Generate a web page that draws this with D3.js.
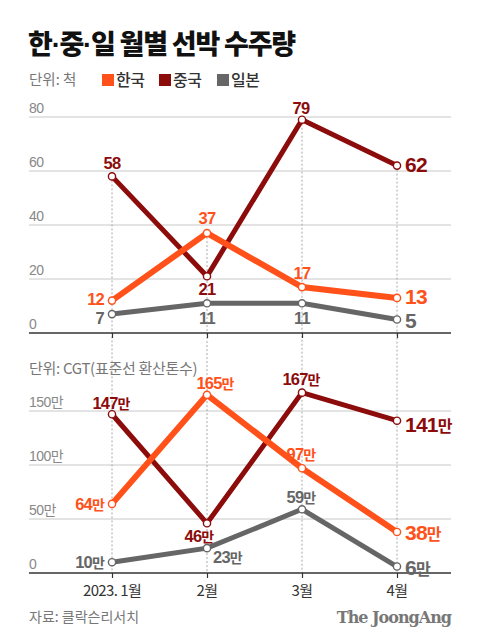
<!DOCTYPE html>
<html><head><meta charset="utf-8">
<script src="https://cdn.jsdelivr.net/npm/d3@7"></script>
<style>
html,body{margin:0;padding:0;background:#fff;}
svg{display:block;}
</style></head>
<body>
<script>
// ---- data ----
const months = ["2023. 1월", "2월", "3월", "4월"];
const seriesNames = ["한국", "중국", "일본"];
const shipsKorea = [12, 37, 17, 13];
const shipsChina = [58, 21, 79, 62];
const shipsJapan = [7, 11, 11, 5];
const cgtKorea = [64, 165, 97, 38];
const cgtChina = [147, 46, 167, 141];
const cgtJapan = [10, 23, 59, 6];
const shipTicks = [0, 20, 40, 60, 80];
const cgtTicks = [0, 50, 100, 150];
const cgtTickLabels = ["0", "50만", "100만", "150만"];
const titleParts = ["한", "·", "중", "·", "일 월별 선박 수주량"];

// ---- style ----
const W = 480, H = 644;
const colors = {"한국": "#ff5119", "중국": "#8c0b0b", "일본": "#666666"};
const widths = {"한국": 6, "중국": 5, "일본": 5};
const numFont = "'Liberation Sans', Arial, 'Noto Sans CJK KR', sans-serif";
const krFont = "'Noto Sans CJK KR', 'Liberation Sans', sans-serif";

const svg = d3.select("body").append("svg").attr("width", W).attr("height", H);

// title
const title = svg.append("text").attr("x", 28).attr("y", 54)
  .attr("font-family", krFont).attr("font-weight", 900).attr("font-size", 27)
  .attr("letter-spacing", -1.2).attr("fill", "#111");
titleParts.forEach(p => {
  const ts = title.append("tspan").text(p);
  if (p === "·") ts.attr("font-family", "'Liberation Sans', sans-serif").attr("font-weight", "bold");
});

// legend
svg.append("text").attr("x", 29).attr("y", 85).attr("font-family", krFont)
  .attr("font-size", 14.5).attr("fill", "#777").text("단위: 척");
const legX = [102, 159, 217];
seriesNames.forEach((n, i) => {
  svg.append("rect").attr("x", legX[i]).attr("y", 74).attr("width", 12).attr("height", 12).attr("fill", colors[n]);
  svg.append("text").attr("x", legX[i] + 14).attr("y", 86).attr("font-family", krFont)
    .attr("font-size", 16).attr("font-weight", 500).attr("fill", "#333").attr("letter-spacing", -0.5).text(n);
});

const x = d3.scalePoint().domain(months).range([112, 397]);
const yTop = d3.scaleLinear().domain([0, 80]).range([333, 117]);
const yBot = d3.scaleLinear().domain([0, 150]).range([573, 411]);
const gx0 = 29, gx1 = 451;

function grid(scale, ticks, labels) {
  const g = svg.append("g");
  ticks.forEach((t, i) => {
    if (t !== 0) {
      g.append("line").attr("x1", gx0).attr("x2", gx1).attr("y1", scale(t)).attr("y2", scale(t))
        .attr("stroke", "#c8c8c8").attr("stroke-width", 1);
    }
    g.append("text").attr("x", gx0).attr("y", scale(t) - 4)
      .attr("font-family", numFont).attr("font-size", 14).attr("fill", "#888")
      .attr("letter-spacing", -0.5).text(labels ? labels[i] : t);
  });
}
grid(yTop, shipTicks);
grid(yBot, cgtTicks, cgtTickLabels);

// unit label bottom
svg.append("text").attr("x", 29).attr("y", 374).attr("font-family", krFont)
  .attr("font-size", 15).attr("fill", "#777").attr("letter-spacing", -0.3)
  .text("단위: CGT(표준선 환산톤수)");

// dotted verticals
months.forEach((m, i) => {
  const top = yTop(Math.max(shipsKorea[i], shipsChina[i], shipsJapan[i]));
  svg.append("line").attr("x1", x(m)).attr("x2", x(m)).attr("y1", top).attr("y2", yBot(0))
    .attr("stroke", "#a8a8a8").attr("stroke-width", 1).attr("stroke-dasharray", "2,2");
});

// axes
function axis(scale) {
  const y0 = scale(0);
  const g = svg.append("g").attr("transform", `translate(0,${y0})`)
    .call(d3.axisBottom(x).tickSize(5).tickFormat(""));
  g.select(".domain").remove();
  g.selectAll(".tick line").attr("stroke", "#333").attr("stroke-width", 1.2);
  svg.append("line").attr("x1", gx0).attr("x2", gx1).attr("y1", y0).attr("y2", y0)
    .attr("stroke", "#333").attr("stroke-width", 1.5);
  return g;
}
axis(yTop);
axis(yBot);

// month labels
months.forEach(m => {
  svg.append("text").attr("x", x(m)).attr("y", 596).attr("text-anchor", "middle")
    .attr("font-family", krFont).attr("font-size", 15).attr("fill", "#333")
    .attr("letter-spacing", -0.6).text(m);
});

// series
const line = d3.line();
function drawSeries(scale, vals, name) {
  const pts = vals.map((v, i) => [x(months[i]), scale(v)]);
  svg.append("path").attr("d", line(pts)).attr("fill", "none")
    .attr("stroke", colors[name]).attr("stroke-width", widths[name])
    .attr("stroke-linejoin", "miter").attr("stroke-linecap", "butt");
  pts.forEach(p => svg.append("circle").attr("cx", p[0]).attr("cy", p[1]).attr("r", 3.6)
    .attr("fill", "#fff").attr("stroke", colors[name]).attr("stroke-width", 1.4));
}
// label positions: [dx, dy(baseline offset from point), anchor, big]
const shipLabelPos = {
  "한국": [[-8, 4.5, "end"], [0, -9, "middle"], [0, -8, "middle"], [8, 6, "start", true]],
  "중국": [[0, -7, "middle"], [0, 19, "middle"], [-1, -6, "middle"], [8, 6, "start", true]],
  "일본": [[-8, 9.5, "end"], [0, 21, "middle"], [0, 21, "middle"], [8, 8, "start", true]]
};
const cgtLabelPos = {
  "한국": [[-8, 6, "end"], [8, -6, "middle"], [-1, -8, "middle"], [8, 8, "start", true]],
  "중국": [[-1, -5, "middle"], [-8, 19, "middle"], [-1, -8, "middle"], [8, 11, "start", true]],
  "일본": [[-8, 6, "end"], [6, 15, "start"], [-1, -6, "middle"], [8, 8, "start", true]]
};
function drawLabels(scale, vals, name, pos, suffix) {
  vals.forEach((v, i) => {
    const [dx, dy, anchor, big] = pos[name][i];
    const t = svg.append("text").attr("x", x(months[i]) + dx).attr("y", scale(v) + dy)
      .attr("text-anchor", anchor).attr("font-family", numFont)
      .attr("font-weight", "bold").attr("font-size", big ? 21 : 16.5)
      .attr("letter-spacing", -0.8)
      .attr("fill", colors[name]);
    t.append("tspan").text(v);
    if (suffix) t.append("tspan").attr("font-family", krFont).attr("font-weight", 700)
      .attr("font-size", big ? 16 : 14).text(suffix);
  });
}
// top chart
drawSeries(yTop, shipsJapan, "일본");
drawSeries(yTop, shipsChina, "중국");
drawSeries(yTop, shipsKorea, "한국");
drawLabels(yTop, shipsJapan, "일본", shipLabelPos);
drawLabels(yTop, shipsChina, "중국", shipLabelPos);
drawLabels(yTop, shipsKorea, "한국", shipLabelPos);
// bottom chart
drawSeries(yBot, cgtJapan, "일본");
drawSeries(yBot, cgtChina, "중국");
drawSeries(yBot, cgtKorea, "한국");
drawLabels(yBot, cgtJapan, "일본", cgtLabelPos, "만");
drawLabels(yBot, cgtChina, "중국", cgtLabelPos, "만");
drawLabels(yBot, cgtKorea, "한국", cgtLabelPos, "만");

// footer
svg.append("text").attr("x", 29).attr("y", 622).attr("font-family", krFont)
  .attr("font-size", 14).attr("fill", "#777").text("자료: 클락슨리서치");
svg.append("text").attr("x", 451).attr("y", 623).attr("text-anchor", "end")
  .attr("font-family", "'DejaVu Serif', 'Liberation Serif', serif").attr("font-weight", "bold")
  .attr("font-size", 16).attr("letter-spacing", -1).attr("fill", "#777").text("The JoongAng");
</script>
</body></html>
